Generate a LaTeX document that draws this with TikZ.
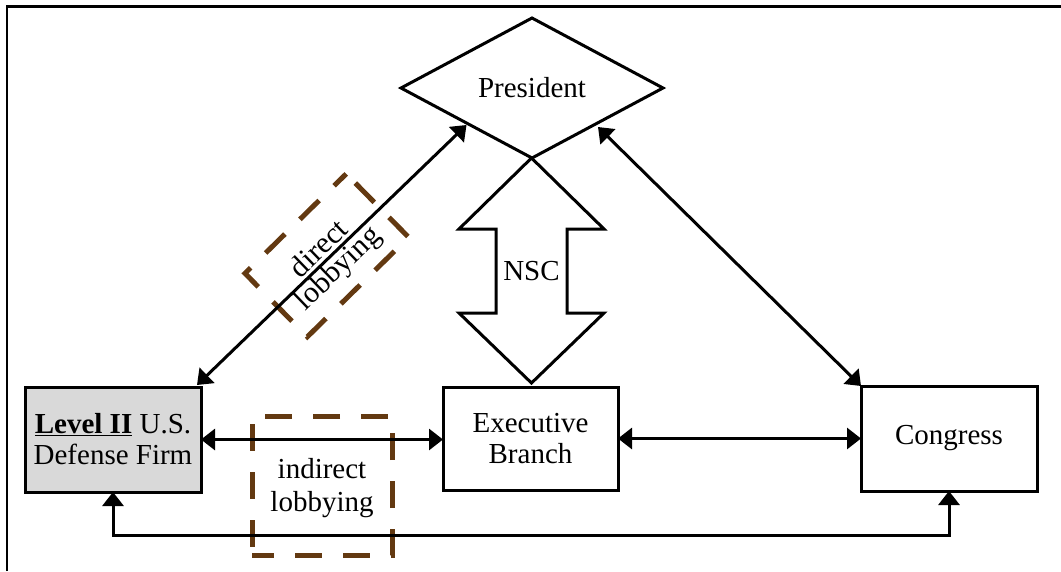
\documentclass[tikz,border=0pt]{standalone}
\usepackage{fontspec}
\setmainfont{Liberation Serif}
\usetikzlibrary{arrows.meta,shapes.geometric}

\definecolor{lobbybrown}{RGB}{99,57,17}
\definecolor{firmgray}{RGB}{217,217,217}

\tikzset{
  label text/.style={font=\fontsize{29}{31}\selectfont, align=center, inner sep=0pt},
  actor/.style={label text, draw, line width=3pt, outer sep=0pt,
                minimum width=176pt, minimum height=105pt},
  link/.style={line width=3pt,
               {Triangle[length=14pt,width=21pt]}-{Triangle[length=14pt,width=21pt]}},
  lobbyframe/.style={draw=lobbybrown, line width=5pt, dash pattern=on 27pt off 21pt,
                     dash phase=10pt, inner sep=0pt, outer sep=0pt},
  tilted/.style={font=\fontsize{30}{32}\selectfont, sloped, outer sep=0pt},
}

\begin{document}
\begin{tikzpicture}[x=1pt,y=-1pt]
  \useasboundingbox (0,0) rectangle (1061,571);

  % page frame (top and left rules)
  \draw[line width=2.2pt] (7,571) -- (7,6.5) -- (1061,6.5);

  % actors
  \node[actor, fill=firmgray] (firm) at (113,439.5)
    {\underline{\textbf{Level II}} U.S.\\Defense Firm};
  \node[actor, minimum width=175pt, minimum height=103pt] (exec) at (530.5,438.5)
    {Executive\\Branch};
  \node[actor] (cong) at (949,438.5) {Congress};
  \node[label text, diamond, draw, line width=3pt, outer sep=0pt, aspect=1.87,
        minimum width=262pt, minimum height=140pt] (pres) at (532,88) {President};

  % NSC double block arrow between President and Executive Branch
  \node[label text] (nsc) at (531.5,271) {NSC};
  \draw[line width=3pt, line join=miter]
    (nsc.center) ++(0,-113) -- ++(72.5,71) -- ++(-37,0) -- ++(0,84) -- ++(37,0)
    -- ++(-72.5,70) -- ++(-72.5,-70) -- ++(37,0) -- ++(0,-84) -- ++(-37,0) -- cycle;

  % lobbying frames (drawn first so the links run over them)
  \node[lobbyframe, rotate=44.5, minimum width=142pt, minimum height=89pt]
    (direct) at (326.8,255.3) {};
  \node[lobbyframe, dash phase=5pt, minimum width=140pt, minimum height=139pt]
    (indirect) at (322,485.5) {};

  % links
  \coordinate (presL) at (466.5,125);
  \coordinate (presR) at (598,127);
  \draw[link] ([xshift=-4pt,yshift=2pt]firm.north east) -- (presL)
    node[tilted, pos=0.487, above, inner sep=4pt] (directA) {direct}
    node[tilted, pos=0.487, below, inner sep=1.5pt] (directB) {lobbying};
  \draw[link] (cong.north west) -- (presR);
  \draw[link] (firm.east) -- (firm.east -| exec.west);
  \draw[link] (exec.east) -- (exec.east -| cong.west);
  \draw[link] (firm.south) -- ++(0,43) -| (cong.south);

  \node[label text, font=\fontsize{29}{33}\selectfont]
    (indirecttext) at (322,488) {indirect\\lobbying};
\end{tikzpicture}
\end{document}
